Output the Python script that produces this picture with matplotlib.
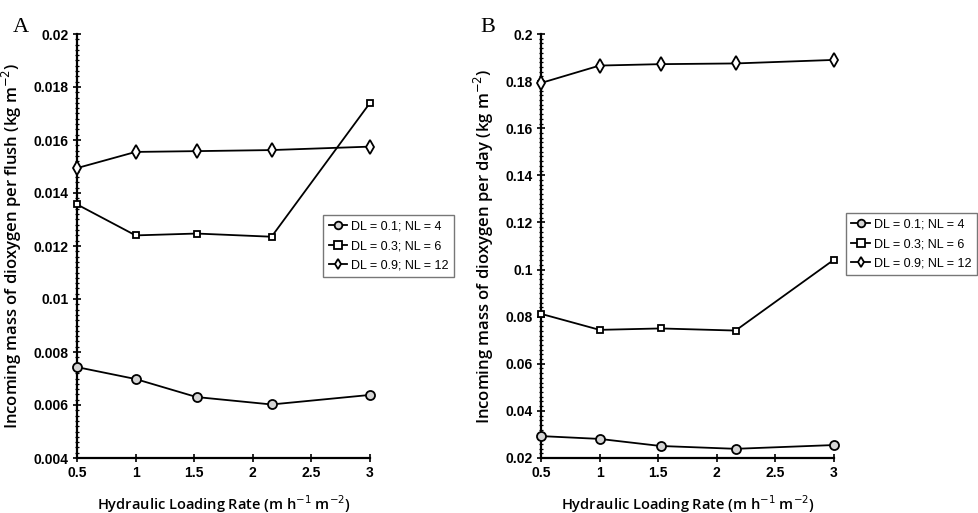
import matplotlib
matplotlib.use("Agg")
import matplotlib.pyplot as plt
from matplotlib.ticker import AutoMinorLocator

x_vals = [0.5, 1.0, 1.52, 2.16, 3.0]
labels = ["DL = 0.1; NL = 4", "DL = 0.3; NL = 6", "DL = 0.9; NL = 12"]

a_dl01 = [0.00743, 0.00698, 0.00630, 0.00602, 0.00638]
a_dl03 = [0.01357, 0.01240, 0.01247, 0.01235, 0.01740]
a_dl09 = [0.01494, 0.01555, 0.01558, 0.01562, 0.01575]

b_dl01 = [0.0293, 0.0281, 0.0251, 0.0239, 0.0255]
b_dl03 = [0.0812, 0.0744, 0.0750, 0.0741, 0.1042]
b_dl09 = [0.1792, 0.1866, 0.1872, 0.1875, 0.1890]

x_ticks = [0.5, 1, 1.5, 2, 2.5, 3]
x_ticklabels = ["0.5", "1", "1.5", "2", "2.5", "3"]
a_yticks = [0.004, 0.006, 0.008, 0.01, 0.012, 0.014, 0.016, 0.018, 0.02]
a_yticklabels = ["0.004", "0.006", "0.008", "0.01", "0.012", "0.014", "0.016", "0.018", "0.02"]
b_yticks = [0.02, 0.04, 0.06, 0.08, 0.1, 0.12, 0.14, 0.16, 0.18, 0.2]
b_yticklabels = ["0.02", "0.04", "0.06", "0.08", "0.1", "0.12", "0.14", "0.16", "0.18", "0.2"]

fig = plt.figure(figsize=(9.79, 5.13), dpi=100)
W, H = 979, 513

tick_font = dict(family=["Liberation Sans", "DejaVu Sans"], weight="bold", size=10)
xlabel_font = dict(family=["Open Sans", "DejaVu Sans"], weight="semibold", size=10.5)
ylabel_font = dict(family=["Open Sans", "DejaVu Sans"], weight="semibold", size=12)

def panel(left_px, series, yticks, yticklabels, ylim, ylabel, letter, letter_px, leg_px, leg_loc):
    ax = fig.add_axes([left_px / W, 1 - 458 / H, 293 / W, (458 - 34) / H])
    styles = [("o", "#d4d4d4", 6.5), ("s", "white", 5.0), ("d", "white", 7.5)]
    for ys, lab, (m, fc, ms) in zip(series, labels, styles):
        ax.plot(x_vals, ys, color="black", lw=1.3, marker=m, ms=ms, mfc=fc,
                mec="black", mew=1.3, label=lab, clip_on=False, zorder=3)
    ax.set_xlim(0.5, 3)
    ax.set_ylim(*ylim)
    ax.set_xticks(x_ticks)
    ax.set_xticklabels(x_ticklabels, **tick_font)
    ax.set_yticks(yticks)
    ax.set_yticklabels(yticklabels, **tick_font)
    ax.yaxis.set_minor_locator(AutoMinorLocator(10))
    for s in ["top", "right"]:
        ax.spines[s].set_visible(False)
    for s in ["left", "bottom"]:
        ax.spines[s].set_linewidth(1.6)
    ax.tick_params(axis="both", which="major", direction="inout", length=6, width=1.2, pad=3)
    ax.tick_params(axis="y", which="minor", direction="inout", length=2.5, width=0.9)
    ax.set_xlabel("Hydraulic Loading Rate (m h$^{-1}$ m$^{-2}$)", labelpad=9, **xlabel_font)
    ax.set_ylabel(ylabel, labelpad=7, **ylabel_font)
    fig.text(letter_px[0] / W, 1 - letter_px[1] / H, letter, family=["Liberation Serif", "DejaVu Serif"],
             size=16, ha="left", va="baseline")
    leg = ax.legend(loc=leg_loc, bbox_to_anchor=(leg_px[0] / W, 1 - leg_px[1] / H),
                    bbox_transform=fig.transFigure, frameon=True, fancybox=False,
                    edgecolor="#555555", handlelength=1.5, handletextpad=0.3, borderpad=0.45,
                    labelspacing=0.6, borderaxespad=0,
                    prop=dict(family=["Liberation Sans", "DejaVu Sans"], size=9))
    leg.get_frame().set_linewidth(1.0)
    for h in leg.legend_handles:
        h.set_markersize(5.5)
    return ax

panel(77, [a_dl01, a_dl03, a_dl09], a_yticks, a_yticklabels, (0.004, 0.02),
      "Incoming mass of dioxygen per flush (kg m$^{-2}$)", "A", (13, 32), (323, 215), "upper left")
panel(541, [b_dl01, b_dl03, b_dl09], b_yticks, b_yticklabels, (0.02, 0.2),
      "Incoming mass of dioxygen per day (kg m$^{-2}$)", "B", (480, 32), (977, 213), "upper right")

fig.savefig("out.png", dpi=100)
